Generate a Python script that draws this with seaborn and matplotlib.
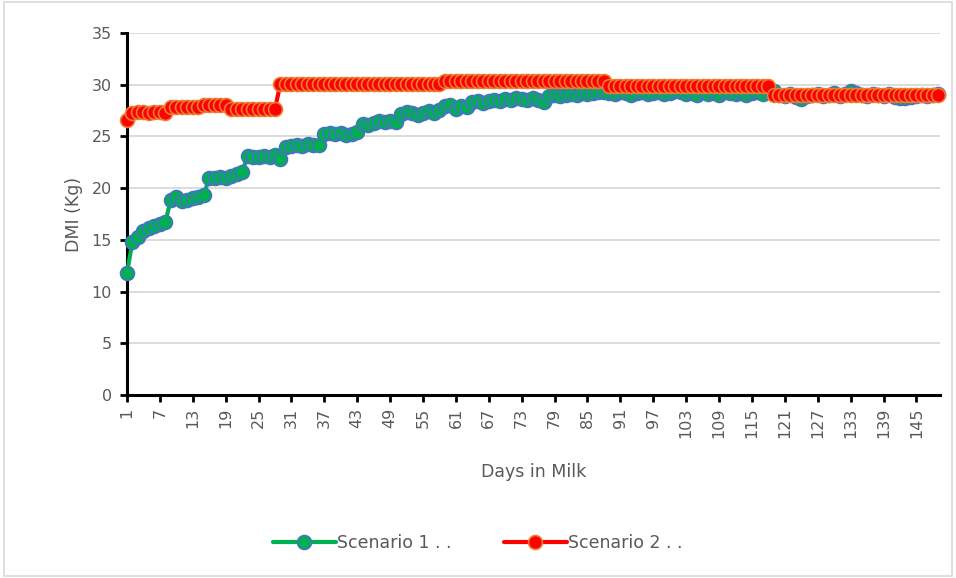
import matplotlib
matplotlib.use("Agg")
import matplotlib.pyplot as plt
import matplotlib.patches as patches
import numpy as np
import pandas as pd
import seaborn as sns

# Days in milk 1..149
days = list(range(1, 150))

scenario1 = [
    11.8, 14.8, 15.3, 15.9, 16.1, 16.3, 16.5, 16.7, 18.9, 19.1,
    18.8, 18.9, 19.0, 19.1, 19.3, 21.0, 21.0, 21.1, 21.0, 21.2,
    21.4, 21.6, 23.1, 23.0, 23.0, 23.1, 23.0, 23.2, 22.8, 24.0,
    24.1, 24.2, 24.1, 24.3, 24.2, 24.2, 25.2, 25.3, 25.2, 25.3,
    25.1, 25.2, 25.4, 26.2, 26.1, 26.3, 26.5, 26.4, 26.5, 26.4,
    27.2, 27.4, 27.3, 27.1, 27.3, 27.5, 27.3, 27.6, 27.9, 28.0,
    27.7, 27.9, 27.8, 28.3, 28.4, 28.2, 28.4, 28.5, 28.4, 28.6,
    28.5, 28.7, 28.6, 28.5, 28.7, 28.5, 28.3, 28.9, 29.0, 28.9,
    29.0, 29.1, 29.0, 29.2, 29.1, 29.2, 29.3, 29.3, 29.2, 29.1,
    29.3, 29.2, 29.0, 29.2, 29.3, 29.1, 29.2, 29.3, 29.1, 29.2,
    29.4, 29.3, 29.1, 29.2, 29.0, 29.3, 29.1, 29.2, 29.0, 29.3,
    29.2, 29.1, 29.3, 29.0, 29.2, 29.3, 29.1, 29.5, 29.4, 29.0,
    28.9, 29.1, 28.8, 28.6, 28.9, 29.0, 29.1, 28.9, 29.0, 29.2,
    28.9, 29.1, 29.4, 29.2, 29.0, 28.9, 29.1, 29.0, 28.9, 29.1,
    28.8, 28.7, 28.7, 28.8, 28.9, 29.0, 28.9, 29.0, 29.1,
]

scenario2 = (
    [26.6]
    + [27.3, 27.4, 27.4, 27.3, 27.4, 27.4, 27.3]
    + [27.8] * 6
    + [28.0] * 5
    + [27.7] * 9
    + [30.1] * 30
    + [30.35] * 30
    + [29.9] * 30
    + [29.0] * 31
)

tick_days = list(range(1, 146, 6))

df = pd.DataFrame({"day": days, "s1": scenario1, "s2": scenario2})

sns.set_theme(style="white")
plt.rcParams["font.family"] = ["DejaVu Sans"]
text_gray = "#595959"

fig = plt.figure(figsize=(9.56, 5.78), dpi=100)
ax = fig.add_axes([0.1328, 0.3166, 0.8505, 0.6263])

sns.lineplot(data=df, x="day", y="s1", ax=ax, color="#00B050", linewidth=3,
             marker="o", markersize=10, markerfacecolor="#00B050",
             markeredgecolor="#4472C4", markeredgewidth=1.2,
             label="Scenario 1 . .", legend=False, clip_on=False, zorder=3)
sns.lineplot(data=df, x="day", y="s2", ax=ax, color="#FF0000", linewidth=3,
             marker="o", markersize=10, markerfacecolor="#FF0000",
             markeredgecolor="#ED7D31", markeredgewidth=1.2,
             label="Scenario 2 . .", legend=False, clip_on=False, zorder=4)

ax.set_xlim(1, 149.3)
ax.set_ylim(0, 35)
ax.set_yticks(range(0, 36, 5))
ax.set_xticks(tick_days)
ax.set_xticklabels([str(d) for d in tick_days], rotation=90)

ax.yaxis.grid(True, color="#D9D9D9", linewidth=1.3)
ax.set_axisbelow(True)
for side in ["top", "right"]:
    ax.spines[side].set_visible(False)
for side in ["left", "bottom"]:
    ax.spines[side].set_color("black")
    ax.spines[side].set_linewidth(2.2)
    ax.spines[side].set_zorder(2)

ax.tick_params(axis="both", which="major", direction="out", length=5,
               width=2, color="black", labelsize=11.5, labelcolor=text_gray,
               bottom=True, left=True)
ax.tick_params(axis="y", pad=6)
ax.tick_params(axis="x", pad=4)

ax.set_xlabel("Days in Milk", fontsize=12.5, color=text_gray, labelpad=18)
ax.set_ylabel("DMI (Kg)", fontsize=12.5, color=text_gray, labelpad=6)

handles, labels = ax.get_legend_handles_labels()
fig.legend(handles, labels, loc="center", bbox_to_anchor=(0.5, 0.06),
           ncol=2, frameon=False, handlelength=3.6, handletextpad=0.1,
           columnspacing=3.0, fontsize=12.5, labelcolor=text_gray)

fig.patches.append(patches.Rectangle((0.004, 0.004), 0.992, 0.992,
                                     transform=fig.transFigure, fill=False,
                                     edgecolor="#D9D9D9", linewidth=1.2))

fig.savefig("out.png", dpi=100)
